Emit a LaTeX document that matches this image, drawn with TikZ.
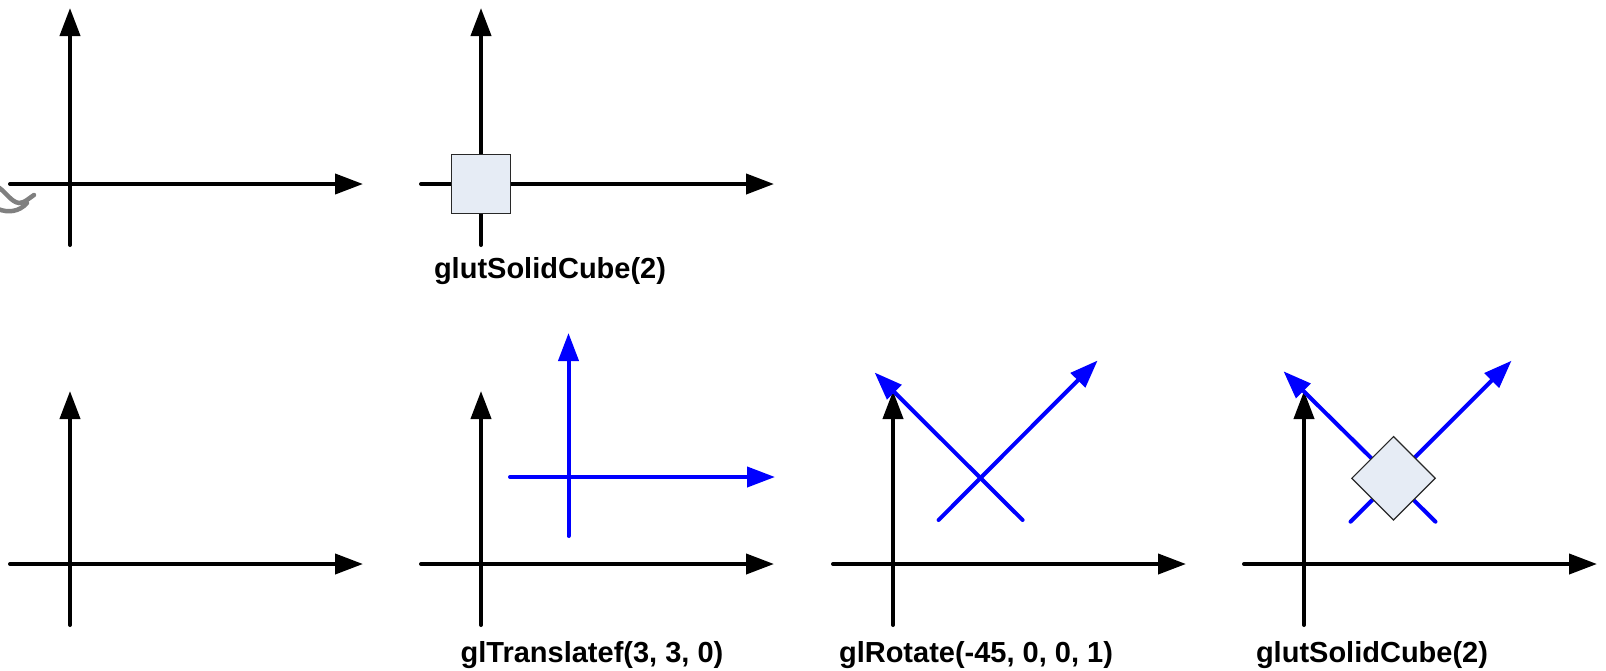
\documentclass[tikz,border=0pt]{standalone}
\usepackage{fontspec}
\setmainfont{Liberation Sans}
\usetikzlibrary{arrows.meta}
\definecolor{cubefill}{RGB}{230,236,245}
\definecolor{cubeedge}{RGB}{40,40,40}
\definecolor{scribble}{RGB}{128,128,128}
\tikzset{
  axisline/.style={line width=4pt, line cap=round, -{Triangle[length=28pt,width=20pt]}},
  blueaxis/.style={axisline, blue},
  cubebox/.style={fill=cubefill, draw=cubeedge, line width=1.2pt, minimum size=59pt, inner sep=0pt},
  label/.style={anchor=base, font=\fontsize{29}{34}\selectfont\bfseries, inner sep=0pt},
  scribbleline/.style={scribble, line width=4.5pt, line cap=round}
}
\begin{document}
\begin{tikzpicture}[x=1pt,y=-1pt]
\useasboundingbox (0,0) rectangle (1606,670);
% ---------- top row ----------
\foreach \n/\x in {a1/70, a2/481} {
  \coordinate (\n) at (\x,184);
  \draw[axisline] ([shift={(0,61)}]\n) -- ([shift={(0,-176)}]\n);
  \draw[axisline] ([shift={(-60,0)}]\n) -- ([shift={(293,0)}]\n);
}
\draw[scribbleline]
  (-2,187) .. controls (6,192) and (11,202) .. (19,203)
  .. controls (25,203) and (29,198) .. (34,195);
\draw[scribbleline]
  (-2,209) .. controls (8,213) and (19,212) .. (27,203);
\node[cubebox] (cubeA) at (a2) {};
\node[label] (labA) at (550,278.3) {glutSolidCube(2)};
% ---------- bottom row ----------
\foreach \n/\x in {b1/70, b2/481, b3/893, b4/1304} {
  \coordinate (\n) at (\x,564);
  \draw[axisline] ([shift={(0,61)}]\n) -- ([shift={(0,-173)}]\n);
  \draw[axisline] ([shift={(-60,0)}]\n) -- ([shift={(293,0)}]\n);
}
% translated axes
\coordinate (t2) at (568.5,477);
\draw[blueaxis] ([shift={(0,59)}]t2) -- ([shift={(0,-144)}]t2);
\draw[blueaxis] ([shift={(-58.5,0)}]t2) -- ([shift={(206.5,0)}]t2);
% rotated axes
\coordinate (r3) at (980.6,477.5);
\draw[blueaxis] ([shift={(-42,42.5)}]r3) -- ([shift={(117,-117)}]r3);
\draw[blueaxis] ([shift={(42,42.5)}]r3) -- ([shift={(-106,-105)}]r3);
\coordinate (r4) at (1393.5,478.3);
\draw[blueaxis] ([shift={(-43,43.4)}]r4) -- ([shift={(118,-117.6)}]r4);
\draw[blueaxis] ([shift={(42,43.4)}]r4) -- ([shift={(-110,-107)}]r4);
\node[cubebox, rotate=45] (cubeB) at (r4) {};
% labels
\node[label] (labT) at (592,662.7) {glTranslatef(3, 3, 0)};
\node[label] (labR) at (976,662.7) {glRotate(-45, 0, 0, 1)};
\node[label] (labC) at (1372,662.7) {glutSolidCube(2)};
\end{tikzpicture}
\end{document}
